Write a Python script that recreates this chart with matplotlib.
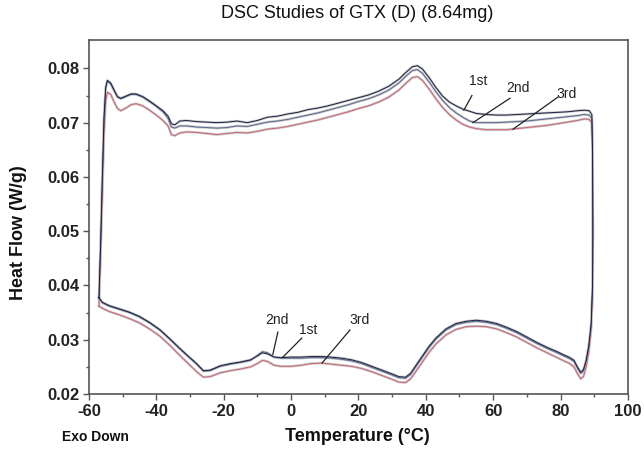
"""DSC heat-flow loops for GTX (D), three successive heat/cool cycles."""
import matplotlib
matplotlib.use("Agg")
import matplotlib.pyplot as plt
import numpy as np

plt.rcParams["font.family"] = ["Liberation Sans", "DejaVu Sans"]
plt.rcParams["axes.unicode_minus"] = False

# heating branch (bottom-left jump up, then left -> right)
T_HEAT = [-57.0, -56.5, -56.0, -55.5, -55.0, -54.5, -53.5, -52.5, -51.5, -50.5,
          -49.0, -47.5, -46.0, -44.0, -42.0, -40.0, -38.0, -36.5, -35.5, -34.5,
          -33.0, -31.0, -28.0, -25.0, -22.0, -19.0, -16.0, -13.0, -10.0, -7.0,
          -4.0, -1.0, 2.0, 5.0, 8.0, 11.0, 14.0, 17.0, 20.0, 23.0,
          26.0, 29.0, 32.0, 34.0, 36.0, 37.5, 39.0, 41.0, 43.0, 45.0,
          47.0, 49.0, 51.0, 53.0, 55.0, 58.0, 61.0, 64.0, 67.0, 70.0,
          73.0, 76.0, 79.0, 82.0, 85.0, 87.0, 88.5, 89.3]
HEAT_1ST = [0.0378, 0.0480, 0.0600, 0.0710, 0.0765, 0.0778, 0.0773, 0.0760, 0.0748, 0.0745,
            0.0749, 0.0753, 0.0753, 0.0748, 0.0740, 0.0731, 0.0722, 0.0712, 0.0698, 0.0696,
            0.0703, 0.0704, 0.0702, 0.0701, 0.0700, 0.0701, 0.0703, 0.0700, 0.0704, 0.0710,
            0.0712, 0.0716, 0.0719, 0.0724, 0.0727, 0.0731, 0.0736, 0.0741, 0.0746, 0.0751,
            0.0758, 0.0767, 0.0780, 0.0792, 0.0803, 0.0805, 0.0799, 0.0783, 0.0765, 0.0749,
            0.0738, 0.0731, 0.0725, 0.0721, 0.0717, 0.0715, 0.0714, 0.0714, 0.0715, 0.0716,
            0.0717, 0.0718, 0.0719, 0.0720, 0.0722, 0.0723, 0.0722, 0.0715]
HEAT_2ND = [0.0376, 0.0478, 0.0598, 0.0708, 0.0764, 0.0777, 0.0771, 0.0759, 0.0747, 0.0744,
            0.0748, 0.0752, 0.0752, 0.0747, 0.0739, 0.0730, 0.0720, 0.0708, 0.0692, 0.0690,
            0.0694, 0.0694, 0.0692, 0.0691, 0.0690, 0.0691, 0.0694, 0.0693, 0.0697, 0.0701,
            0.0703, 0.0706, 0.0710, 0.0714, 0.0718, 0.0723, 0.0728, 0.0733, 0.0739, 0.0744,
            0.0751, 0.0760, 0.0773, 0.0785, 0.0796, 0.0798, 0.0791, 0.0775, 0.0757, 0.0741,
            0.0728, 0.0718, 0.0710, 0.0703, 0.0700, 0.0700, 0.0700, 0.0701, 0.0702, 0.0703,
            0.0705, 0.0707, 0.0709, 0.0711, 0.0713, 0.0715, 0.0714, 0.0708]
HEAT_3RD = [0.0362, 0.0460, 0.0570, 0.0680, 0.0740, 0.0756, 0.0752, 0.0738, 0.0726, 0.0722,
            0.0727, 0.0733, 0.0735, 0.0731, 0.0723, 0.0714, 0.0704, 0.0694, 0.0678, 0.0676,
            0.0681, 0.0683, 0.0682, 0.0680, 0.0678, 0.0680, 0.0682, 0.0681, 0.0684, 0.0688,
            0.0690, 0.0693, 0.0697, 0.0701, 0.0705, 0.0710, 0.0715, 0.0720, 0.0726, 0.0731,
            0.0738, 0.0747, 0.0760, 0.0772, 0.0783, 0.0785, 0.0778, 0.0762, 0.0744, 0.0728,
            0.0715, 0.0705, 0.0697, 0.0692, 0.0689, 0.0687, 0.0687, 0.0687, 0.0689, 0.0691,
            0.0693, 0.0695, 0.0698, 0.0701, 0.0704, 0.0707, 0.0706, 0.0700]

# cooling branch (drop at the right, then right -> left)
T_COOL = [89.5, 89.6, 89.5, 89.1, 88.4, 87.6, 86.8, 86.0, 85.0, 84.0,
          82.5, 81.0, 79.0, 76.0, 73.0, 70.0, 67.0, 64.0, 61.0, 58.0,
          55.0, 52.0, 49.0, 46.0, 43.0, 41.0, 39.0, 37.0, 35.5, 34.0,
          32.0, 30.0, 27.0, 24.0, 21.0, 18.0, 15.0, 12.0, 9.0, 6.0,
          3.0, 0.0, -3.0, -5.0, -7.0, -8.5, -10.0, -12.0, -15.0, -18.0,
          -21.0, -24.0, -26.0, -28.0, -30.0, -33.0, -36.0, -39.0, -42.0, -45.0,
          -48.0, -51.0, -54.0, -56.0, -57.0]
COOL_1ST = [0.0650, 0.0500, 0.0400, 0.0330, 0.0290, 0.0262, 0.0245, 0.0240, 0.0250, 0.0262,
            0.0268, 0.0272, 0.0278, 0.0286, 0.0295, 0.0305, 0.0315, 0.0323, 0.0330, 0.0334,
            0.0336, 0.0334, 0.0330, 0.0320, 0.0303, 0.0288, 0.0270, 0.0252, 0.0238, 0.0231,
            0.0232, 0.0237, 0.0244, 0.0251, 0.0258, 0.0263, 0.0266, 0.0268, 0.0269, 0.0269,
            0.0268, 0.0268, 0.0267, 0.0268, 0.0274, 0.0276, 0.0270, 0.0263, 0.0259, 0.0256,
            0.0252, 0.0244, 0.0243, 0.0256, 0.0267, 0.0284, 0.0302, 0.0319, 0.0332, 0.0343,
            0.0351, 0.0357, 0.0363, 0.0369, 0.0378]
COOL_2ND = [0.0645, 0.0495, 0.0395, 0.0326, 0.0287, 0.0259, 0.0242, 0.0238, 0.0248, 0.0260,
            0.0266, 0.0270, 0.0276, 0.0284, 0.0293, 0.0303, 0.0313, 0.0321, 0.0328, 0.0332,
            0.0334, 0.0332, 0.0328, 0.0318, 0.0301, 0.0286, 0.0268, 0.0250, 0.0236, 0.0229,
            0.0230, 0.0235, 0.0242, 0.0249, 0.0256, 0.0261, 0.0264, 0.0266, 0.0267, 0.0267,
            0.0266, 0.0266, 0.0266, 0.0268, 0.0276, 0.0278, 0.0271, 0.0262, 0.0258, 0.0255,
            0.0251, 0.0243, 0.0242, 0.0255, 0.0266, 0.0283, 0.0301, 0.0318, 0.0331, 0.0342,
            0.0350, 0.0356, 0.0362, 0.0368, 0.0376]
COOL_3RD = [0.0640, 0.0490, 0.0390, 0.0320, 0.0278, 0.0250, 0.0232, 0.0228, 0.0238, 0.0250,
            0.0257, 0.0261, 0.0267, 0.0276, 0.0285, 0.0295, 0.0305, 0.0313, 0.0320, 0.0324,
            0.0325, 0.0324, 0.0319, 0.0309, 0.0292, 0.0277, 0.0259, 0.0241, 0.0228, 0.0221,
            0.0222, 0.0227, 0.0234, 0.0241, 0.0247, 0.0251, 0.0253, 0.0255, 0.0257, 0.0256,
            0.0253, 0.0251, 0.0251, 0.0253, 0.0260, 0.0262, 0.0256, 0.0250, 0.0246, 0.0243,
            0.0239, 0.0232, 0.0231, 0.0241, 0.0253, 0.0271, 0.0290, 0.0307, 0.0320, 0.0331,
            0.0339, 0.0346, 0.0352, 0.0358, 0.0362]

RUNS = ["1st", "2nd", "3rd"]
COLORS = ["#1b2040", "#5a6890", "#cf6475"]

# label text position, pointer start, pointer end (data coords)
TOP_LABELS = [("1st", (55.5, 0.0776), (53.7, 0.0750), (51.3, 0.0723)),
              ("2nd", (67.3, 0.0763), (65.0, 0.0745), (54.0, 0.0700)),
              ("3rd", (81.9, 0.0752), (79.2, 0.0747), (65.9, 0.0688))]
BOT_LABELS = [("2nd", (-4.2, 0.0336), (-3.9, 0.0314), (-5.4, 0.0273)),
              ("1st", (5.0, 0.0318), (3.2, 0.0303), (-2.4, 0.0268)),
              ("3rd", (20.4, 0.0336), (17.5, 0.0318), (9.2, 0.0257))]

fig = plt.figure(figsize=(6.44, 4.49), dpi=100)
ax = fig.add_axes([0.138, 0.1225, 0.837, 0.788])

heats = [HEAT_1ST, HEAT_2ND, HEAT_3RD]
cools = [COOL_1ST, COOL_2ND, COOL_3RD]
for i in [2, 1, 0]:
    t = np.r_[T_HEAT, T_COOL]
    hf = np.r_[heats[i], cools[i]]
    ax.plot(t, hf, color="#c8c8c8", lw=1.8, solid_joinstyle="round", zorder=2)
    ax.plot(t, hf, color=COLORS[i], lw=0.7, zorder=3)

for name, txt, p0, p1 in TOP_LABELS + BOT_LABELS:
    ax.text(*txt, name, fontsize=10, ha="center", va="center", color="#222")
    ax.plot([p0[0], p1[0]], [p0[1], p1[1]], color="#222", lw=0.9, zorder=4)

ax.set_xlim(-60, 100)
ax.set_ylim(0.02, 0.0852)
ax.set_xticks(np.arange(-60, 101, 20))
ax.set_xticks(np.arange(-50, 100, 20), minor=True)
ax.set_yticks(np.arange(0.02, 0.0801, 0.01))
ax.set_yticks(np.arange(0.025, 0.085, 0.01), minor=True)
ax.set_yticklabels([f"{v:.2f}" for v in np.arange(0.02, 0.0801, 0.01)])
ax.tick_params(labelsize=12, length=4, width=1, color="#555", pad=3)
ax.tick_params(which="minor", length=2.5, width=1, color="#555")
for lab in ax.get_xticklabels() + ax.get_yticklabels():
    lab.set_fontweight("bold")
    lab.set_color("#222")
for s in ax.spines.values():
    s.set_color("#555")
    s.set_linewidth(1.2)

fig.text(0.555, 0.969, "DSC Studies of GTX (D) (8.64mg)", fontsize=13,
         ha="center", va="center", color="#111")
fig.text(0.555, 0.027, "Temperature (°C)", fontsize=13, fontweight="bold",
         ha="center", va="center", color="#111")
fig.text(0.096, 0.027, "Exo Down", fontsize=10, fontweight="bold",
         ha="left", va="center", color="#111")
fig.text(0.028, 0.483, "Heat Flow (W/g)", fontsize=13, fontweight="bold",
         rotation=90, ha="center", va="center", color="#111")

fig.savefig("out.png", dpi=100, facecolor="white")
